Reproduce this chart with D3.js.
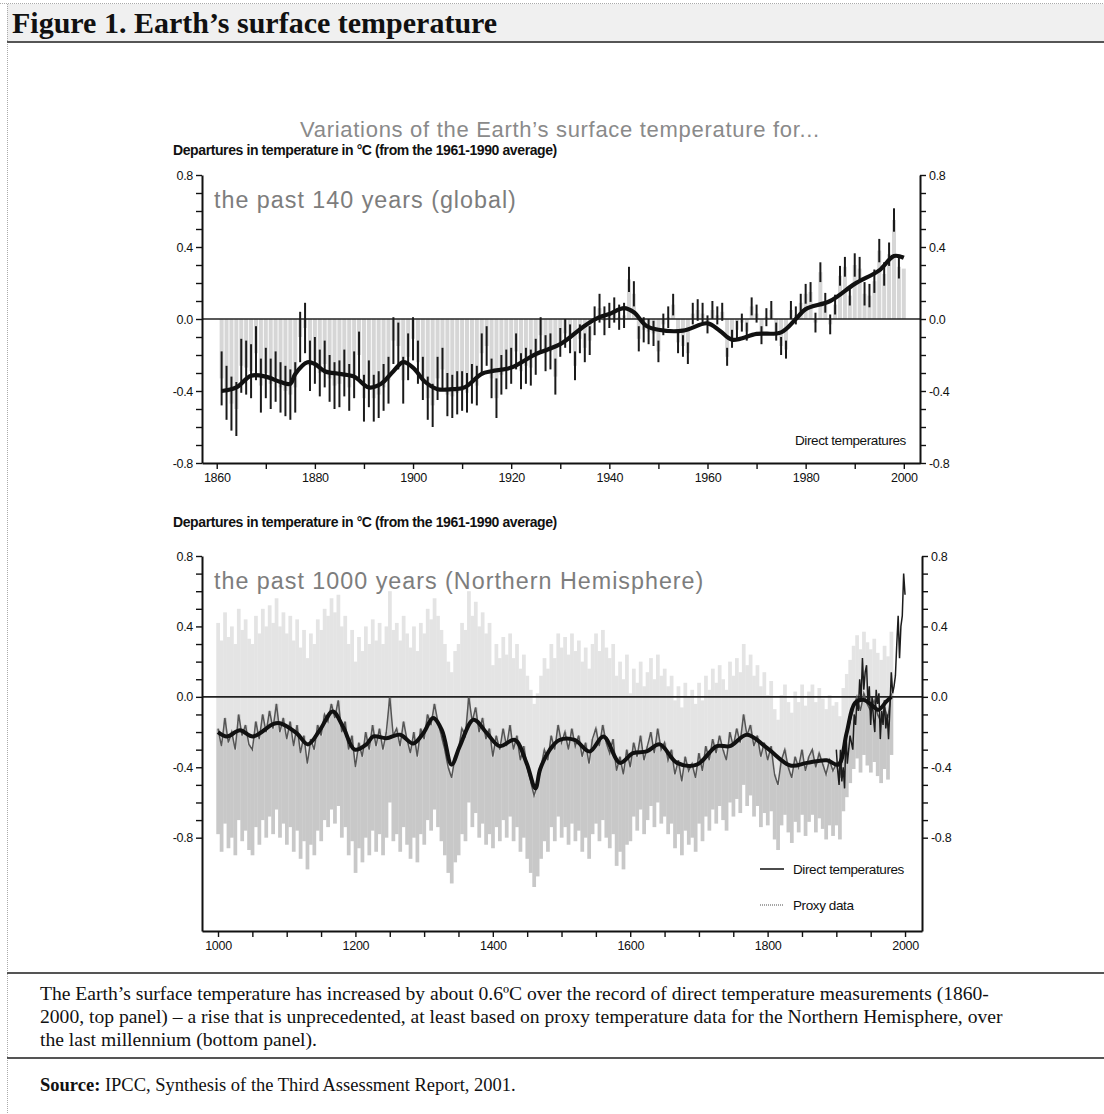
<!DOCTYPE html>
<html>
<head>
<meta charset="utf-8">
<script src="https://cdn.jsdelivr.net/npm/d3@7"></script>
<style>
  body { margin: 0; background: #fff; }
  svg text { font-family: "Liberation Sans", Arial, sans-serif; }
  svg .serif { font-family: "Liberation Serif", "Times New Roman", serif; }
  .axis path, .axis line { stroke: #111; }
  .axis path { stroke-width: 2; }
  .axis line { stroke-width: 1.4; }
  .axis text { font-size: 12.5px; fill: #111; }
</style>
</head>
<body>
<svg id="fig" width="1104" height="1114"></svg>
<script>
//
// Top panel: global annual anomalies 1861-2000
//
const topYears = d3.range(1861, 2001);
const topValues = [
  -0.33, -0.41, -0.47, -0.50, -0.26, -0.27, -0.29, -0.19, -0.37, -0.30,
  -0.36, -0.32, -0.38, -0.40, -0.42, -0.38, -0.10, -0.05, -0.26, -0.23,
  -0.30, -0.25, -0.33, -0.37, -0.36, -0.30, -0.38, -0.31, -0.20, -0.44,
  -0.36, -0.44, -0.42, -0.38, -0.34, -0.12, -0.15, -0.34, -0.21, -0.11,
  -0.24, -0.33, -0.44, -0.48, -0.33, -0.28, -0.42, -0.43, -0.41, -0.40,
  -0.41, -0.36, -0.37, -0.19, -0.15, -0.33, -0.44, -0.31, -0.28, -0.26,
  -0.18, -0.29, -0.26, -0.27, -0.21, -0.09, -0.19, -0.18, -0.32, -0.13,
  -0.08, -0.11, -0.26, -0.11, -0.16, -0.12, -0.01, 0.06, -0.01, 0.02,
  0.05, 0.01, 0.02, 0.22, 0.14, -0.11, -0.06, -0.07, -0.08, -0.18,
  -0.03, 0.01, 0.08, -0.13, -0.15, -0.19, 0.03, 0.05, 0.03, -0.03,
  0.05, 0.02, 0.04, -0.21, -0.11, -0.06, -0.02, -0.07, 0.07, 0.03,
  -0.09, 0.01, 0.05, -0.07, -0.15, -0.17, 0.05, 0.02, 0.09, 0.14,
  0.15, -0.02, 0.26, 0.09, -0.03, 0.08, 0.24, 0.29, 0.13, 0.30,
  0.28, 0.14, 0.13, 0.21, 0.38, 0.25, 0.36, 0.55, 0.29, 0.28
];
// half length of the black uncertainty bars, one per decade 1860s..1990s
const topErrDecades = [1860, 1870, 1880, 1890, 1900, 1910, 1920, 1930, 1940, 1950, 1960, 1970, 1980, 1990];
const topErrHalf = [0.15, 0.14, 0.13, 0.13, 0.12, 0.11, 0.10, 0.08, 0.07, 0.06, 0.05, 0.05, 0.055, 0.065];

// thick smoothed curve of the top panel
const topSmoothYears = [1861, 1864, 1867, 1870, 1873, 1875, 1876, 1878.5, 1880, 1882, 1885, 1888, 1891, 1893.5,
  1896, 1898, 1900, 1902.5, 1905, 1908, 1910.5, 1914, 1916, 1920, 1925, 1930, 1935, 1938, 1940, 1943,
  1945, 1947.5, 1950, 1955, 1960, 1962.5, 1965, 1970, 1975, 1978, 1980, 1985, 1990, 1995, 1998, 2000];
const topSmoothValues = [-0.40, -0.38, -0.315, -0.32, -0.35, -0.36, -0.305, -0.24, -0.25, -0.29, -0.305, -0.32, -0.38, -0.36,
  -0.29, -0.24, -0.27, -0.35, -0.39, -0.39, -0.38, -0.305, -0.29, -0.27, -0.195, -0.14, -0.037, 0.01, 0.028, 0.06,
  0.037, -0.037, -0.06, -0.065, -0.024, -0.065, -0.115, -0.083, -0.074, 0.0, 0.055, 0.10, 0.195, 0.27, 0.35, 0.34];

//
// Bottom panel: Northern Hemisphere, 1000-2000
//
const proxyYears = d3.range(1000, 1981, 5);
const proxyValues = [
  -0.18, -0.28, -0.12, -0.26, -0.20, -0.30, -0.10, -0.22, -0.16, -0.27,
  -0.30, -0.14, -0.24, -0.10, -0.20, -0.08, -0.18, -0.04, -0.20, -0.12,
  -0.24, -0.14, -0.28, -0.16, -0.32, -0.22, -0.38, -0.24, -0.30, -0.16,
  -0.22, -0.10, -0.14, -0.04, -0.12, -0.02, -0.20, -0.14, -0.30, -0.22,
  -0.40, -0.26, -0.34, -0.20, -0.30, -0.16, -0.28, -0.18, -0.30, -0.20,
  0.00, -0.22, -0.18, -0.28, -0.14, -0.24, -0.32, -0.20, -0.34, -0.18,
  -0.24, -0.10, -0.16, -0.04, -0.14, -0.22, -0.30, -0.40, -0.46, -0.34,
  -0.30, -0.18, -0.22, 0.00, -0.14, -0.06, -0.20, -0.12, -0.24, -0.18,
  -0.34, -0.22, -0.30, -0.18, -0.28, -0.16, -0.30, -0.22, -0.36, -0.28,
  -0.40, -0.48, -0.56, -0.50, -0.40, -0.30, -0.36, -0.22, -0.30, -0.16,
  -0.26, -0.20, -0.30, -0.18, -0.28, -0.22, -0.34, -0.26, -0.38, -0.24,
  -0.18, -0.28, -0.16, -0.26, -0.32, -0.24, -0.42, -0.34, -0.44, -0.30,
  -0.40, -0.26, -0.34, -0.22, -0.36, -0.28, -0.20, -0.32, -0.18, -0.30,
  -0.26, -0.36, -0.30, -0.44, -0.36, -0.48, -0.34, -0.42, -0.38, -0.46,
  -0.32, -0.42, -0.28, -0.36, -0.24, -0.32, -0.22, -0.30, -0.36, -0.20,
  -0.28, -0.18, -0.26, -0.10, -0.22, -0.16, -0.28, -0.22, -0.34, -0.26,
  -0.36, -0.28, -0.44, -0.50, -0.36, -0.30, -0.40, -0.46, -0.34, -0.40,
  -0.30, -0.42, -0.34, -0.30, -0.40, -0.32, -0.38, -0.44, -0.36, -0.42,
  -0.38, -0.46, -0.30, -0.22, -0.14, -0.06, 0.00, -0.08, 0.02, -0.04,
  -0.08, -0.02, -0.10, -0.14, -0.06, -0.12, 0.02
];
// half width of the grey uncertainty range, one per century
const bandCenturies = [1000, 1100, 1200, 1300, 1400, 1500, 1600, 1700, 1800, 1900];
const bandHalf = [0.60, 0.60, 0.60, 0.60, 0.52, 0.54, 0.42, 0.40, 0.37, 0.35];

// direct (instrumental) NH temperatures, every second year
const directYears = d3.range(1900, 2001, 2);
const directValues = [
  -0.30, -0.42, -0.50, -0.30, -0.48, -0.40, -0.52, -0.20, -0.38, -0.30,
  -0.22, -0.26, -0.30, -0.10, -0.16, -0.02, -0.08, 0.10, -0.02, 0.22,
  0.04, 0.14, 0.18, -0.04, 0.06, -0.16, 0.00, -0.12, -0.20, 0.04,
  -0.04, 0.02, -0.24, -0.08, -0.16, -0.02, -0.18, -0.10, -0.24, -0.06,
  0.14, 0.02, 0.06, 0.12, 0.30, 0.46, 0.22, 0.40, 0.46, 0.70, 0.58
];

const nhSmoothYears = [1000, 1013, 1032, 1051, 1080, 1090, 1114, 1131, 1148, 1167, 1182, 1199, 1216, 1226,
  1245, 1265, 1284, 1299, 1313, 1326, 1340, 1352, 1372, 1391, 1410, 1432, 1449, 1462, 1469, 1483, 1497,
  1519, 1541, 1561, 1585, 1604, 1624, 1643, 1668, 1697, 1726, 1745, 1770, 1799, 1833, 1857, 1886, 1903,
  1915, 1927, 1939, 1954, 1961, 1973, 1980];
const nhSmoothValues = [-0.20, -0.225, -0.19, -0.225, -0.155, -0.15, -0.205, -0.27, -0.19, -0.083, -0.17, -0.30, -0.27, -0.225,
  -0.235, -0.215, -0.265, -0.205, -0.12, -0.19, -0.385, -0.28, -0.13, -0.205, -0.28, -0.245, -0.375, -0.52, -0.41, -0.30, -0.245,
  -0.245, -0.31, -0.225, -0.375, -0.32, -0.31, -0.27, -0.375, -0.385, -0.28, -0.28, -0.215, -0.29, -0.39, -0.375, -0.36, -0.385,
  -0.205, -0.036, -0.017, -0.055, -0.074, -0.026, 0.0];

// ticks
const yTickValues = [-0.8, -0.7, -0.6, -0.5, -0.4, -0.3, -0.2, -0.1, 0, 0.1, 0.2, 0.3, 0.4, 0.5, 0.6, 0.7, 0.8];
const yTickLabels = [-0.8, -0.4, 0, 0.4, 0.8];
const topXTicks = d3.range(1860, 2001, 10);
const topXLabels = [1860, 1880, 1900, 1920, 1940, 1960, 1980, 2000];
const botXTicks = d3.range(1000, 2001, 50);
const botXLabels = [1000, 1200, 1400, 1600, 1800, 2000];

const svg = d3.select('#fig');

// ---------- frame, header, caption ----------
svg.append('rect').attr('x', 7).attr('y', 4).attr('width', 1097).attr('height', 38).attr('fill', '#f0f0f0');
svg.append('line').attr('x1', 0).attr('x2', 1104).attr('y1', 3.5).attr('y2', 3.5)
  .attr('stroke', '#aaa').attr('stroke-dasharray', '1,1');
svg.append('line').attr('x1', 7.5).attr('x2', 7.5).attr('y1', 4).attr('y2', 1114)
  .attr('stroke', '#aaa').attr('stroke-dasharray', '1,1');
[42, 973, 1058].forEach(y => {
  svg.append('line').attr('x1', 7).attr('x2', 1104).attr('y1', y).attr('y2', y)
    .attr('stroke', '#555').attr('stroke-width', 2);
});

svg.append('text').attr('class', 'serif').attr('x', 12).attr('y', 33)
  .attr('font-size', 30).attr('font-weight', 'bold').attr('fill', '#111')
  .text('Figure 1. Earth’s surface temperature');

svg.append('text').attr('x', 560).attr('y', 137).attr('text-anchor', 'middle')
  .attr('font-size', 22).attr('letter-spacing', 0.7).attr('fill', '#8a8a8a')
  .text('Variations of the Earth’s surface temperature for...');

const caption = [
  'The Earth’s surface temperature has increased by about 0.6ºC over the record of direct temperature measurements (1860-',
  '2000, top panel) – a rise that is unprecedented, at least based on proxy temperature data for the Northern Hemisphere, over',
  'the last millennium (bottom panel).'
];
caption.forEach((line, i) => {
  svg.append('text').attr('class', 'serif').attr('x', 40).attr('y', 1000 + i * 23)
    .attr('font-size', 19.6).attr('fill', '#111').text(line);
});
const src = svg.append('text').attr('class', 'serif').attr('x', 40).attr('y', 1091)
  .attr('font-size', 18.5).attr('fill', '#111');
src.append('tspan').attr('font-weight', 'bold').text('Source:');
src.append('tspan').text(' IPCC, Synthesis of the Third Assessment Report, 2001.');

// ---------- helpers ----------
function tickFmt(d) {
  return yTickLabels.some(v => Math.abs(v - d) < 1e-6) ? d.toFixed(1) : '';
}

function drawAxes(g, x, y, xTicks, xLabels, xLeft, xRight) {
  const yBottom = y.range()[0];
  g.append('g').attr('class', 'axis').attr('transform', `translate(${xLeft},0)`)
    .call(d3.axisLeft(y).tickValues(yTickValues).tickFormat(tickFmt).tickSize(6).tickSizeOuter(0).tickPadding(3));
  g.append('g').attr('class', 'axis').attr('transform', `translate(${xRight},0)`)
    .call(d3.axisRight(y).tickValues(yTickValues).tickFormat(tickFmt).tickSize(6).tickSizeOuter(0).tickPadding(3));
  g.append('g').attr('class', 'axis').attr('transform', `translate(0,${yBottom})`)
    .call(d3.axisBottom(x).tickValues(xTicks).tickFormat(d => xLabels.includes(d) ? d : '')
      .tickSize(6).tickSizeOuter(0).tickPadding(4));
  g.selectAll('.axis text').attr('letter-spacing', -0.3);
}

function departuresLabel(y) {
  svg.append('text').attr('x', 173).attr('y', y).attr('font-size', 14).attr('font-weight', 'bold')
    .attr('letter-spacing', -0.4).attr('fill', '#111')
    .text('Departures in temperature in °C (from the 1961-1990 average)');
}

// ---------- top panel ----------
const xTop = d3.scaleLinear().domain([1857, 2003.3]).range([202, 920]);
const yTop = d3.scaleLinear().domain([-0.8, 0.8]).range([463, 175]);
const gTop = svg.append('g');

departuresLabel(155);
gTop.append('text').attr('x', 214).attr('y', 208).attr('font-size', 23.3).attr('letter-spacing', 1.0)
  .attr('fill', '#7d7d7d').text('the past 140 years (global)');

gTop.selectAll('rect.bar').data(topYears).join('rect').attr('class', 'bar')
  .attr('x', d => xTop(d) - 2).attr('width', 4)
  .attr('y', (d, i) => yTop(Math.max(0, topValues[i])))
  .attr('height', (d, i) => Math.abs(yTop(topValues[i]) - yTop(0)))
  .attr('fill', '#d6d6d6');

gTop.append('line').attr('x1', 202).attr('x2', 920).attr('y1', yTop(0)).attr('y2', yTop(0))
  .attr('stroke', '#222').attr('stroke-width', 1.6);

const errFor = yr => topErrHalf[topErrDecades.indexOf(Math.floor(yr / 10) * 10)];
gTop.selectAll('line.err').data(topYears).join('line').attr('class', 'err')
  .attr('x1', d => xTop(d)).attr('x2', d => xTop(d))
  .attr('y1', (d, i) => yTop(topValues[i] + errFor(d)))
  .attr('y2', (d, i) => yTop(topValues[i] - errFor(d)))
  .attr('stroke', '#1a1a1a').attr('stroke-width', 2);

const topSmooth = d3.line().curve(d3.curveCatmullRom)
  .x((d, i) => xTop(d)).y((d, i) => yTop(topSmoothValues[i]));
gTop.append('path').datum(topSmoothYears).attr('d', topSmooth)
  .attr('fill', 'none').attr('stroke', '#111').attr('stroke-width', 4.2).attr('stroke-linejoin', 'round');

gTop.append('text').attr('x', 795).attr('y', 445).attr('font-size', 13.5).attr('letter-spacing', -0.4)
  .attr('fill', '#111').text('Direct temperatures');

drawAxes(gTop, xTop, yTop, topXTicks, topXLabels, 202, 920);

// ---------- bottom panel ----------
const xBot = d3.scaleLinear().domain([976.7, 2024.7]).range([202, 922]);
const yBot = d3.scaleLinear().domain([-1.33, 0.8]).range([931, 556]);
const gBot = svg.append('g');

departuresLabel(527);
gBot.append('text').attr('x', 214).attr('y', 589).attr('font-size', 23.3).attr('letter-spacing', 1.0)
  .attr('fill', '#7d7d7d').text('the past 1000 years (Northern Hemisphere)');

const halfFor = yr => bandHalf[bandCenturies.indexOf(Math.floor(yr / 100) * 100)];
const bw = xBot(1005) - xBot(1000);
// uncertainty range: lighter above the proxy value, darker below
gBot.selectAll('rect.bandHi').data(proxyYears).join('rect').attr('class', 'bandHi')
  .attr('x', d => xBot(d) - bw / 2).attr('width', bw + 0.3)
  .attr('y', (d, i) => yBot(proxyValues[i] + halfFor(d)))
  .attr('height', (d, i) => yBot(proxyValues[i]) - yBot(proxyValues[i] + halfFor(d)))
  .attr('fill', '#e4e4e4');
gBot.selectAll('rect.bandLo').data(proxyYears).join('rect').attr('class', 'bandLo')
  .attr('x', d => xBot(d) - bw / 2).attr('width', bw + 0.3)
  .attr('y', (d, i) => yBot(proxyValues[i]))
  .attr('height', (d, i) => yBot(proxyValues[i] - halfFor(d)) - yBot(proxyValues[i]))
  .attr('fill', '#c8c8c8');

gBot.append('line').attr('x1', 202).attr('x2', 922).attr('y1', yBot(0)).attr('y2', yBot(0))
  .attr('stroke', '#222').attr('stroke-width', 1.6);

const proxyLine = d3.line().x(d => xBot(d)).y((d, i) => yBot(proxyValues[i]));
gBot.append('path').datum(proxyYears).attr('d', proxyLine)
  .attr('fill', 'none').attr('stroke', '#555').attr('stroke-width', 1.5);

const directLine = d3.line().x(d => xBot(d)).y((d, i) => yBot(directValues[i]));
gBot.append('path').datum(directYears).attr('d', directLine)
  .attr('fill', 'none').attr('stroke', '#1c1c1c').attr('stroke-width', 1.5);

const nhSmooth = d3.line().curve(d3.curveCatmullRom)
  .x(d => xBot(d)).y((d, i) => yBot(nhSmoothValues[i]));
gBot.append('path').datum(nhSmoothYears).attr('d', nhSmooth)
  .attr('fill', 'none').attr('stroke', '#111').attr('stroke-width', 4).attr('stroke-linejoin', 'round');

// legend
gBot.append('line').attr('x1', 760).attr('x2', 784).attr('y1', 869).attr('y2', 869)
  .attr('stroke', '#111').attr('stroke-width', 1.5);
gBot.append('text').attr('x', 793).attr('y', 874).attr('font-size', 13.5).attr('letter-spacing', -0.4)
  .attr('fill', '#111').text('Direct temperatures');
gBot.append('line').attr('x1', 760).attr('x2', 784).attr('y1', 905).attr('y2', 905)
  .attr('stroke', '#888').attr('stroke-width', 1.5).attr('stroke-dasharray', '1,1');
gBot.append('text').attr('x', 793).attr('y', 910).attr('font-size', 13.5).attr('letter-spacing', -0.4)
  .attr('fill', '#111').text('Proxy data');

drawAxes(gBot, xBot, yBot, botXTicks, botXLabels, 202, 922);
</script>
</body>
</html>
